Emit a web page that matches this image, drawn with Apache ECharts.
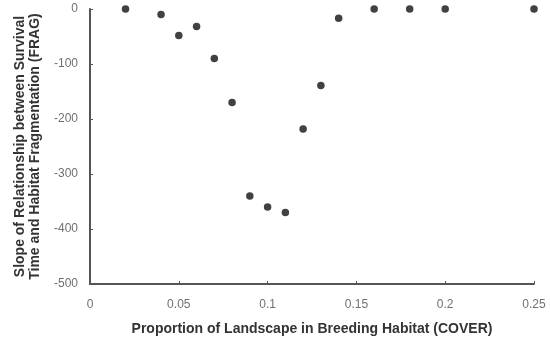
<!DOCTYPE html>
<html>
<head>
<meta charset="utf-8">
<script src="https://cdn.jsdelivr.net/npm/echarts@6/dist/echarts.min.js"></script>
<style>
  html, body { margin: 0; padding: 0; background: #fff; }
  #chart { width: 550px; height: 343px; }
</style>
</head>
<body>
<div id="chart"></div>
<script>
// Proportion of landscape in breeding habitat (COVER)
var cover = [0.02, 0.04, 0.05, 0.06, 0.07, 0.08, 0.09, 0.10, 0.11, 0.12, 0.13, 0.14, 0.16, 0.18, 0.20, 0.25];
// Slope of survival time vs. habitat fragmentation (FRAG)
var slope = [0, -10, -48, -32, -90, -170, -340, -360, -370, -218, -139, -17, 0, 0, 0, 0];

var xTicks = [0, 0.05, 0.1, 0.15, 0.2, 0.25];
var yTicks = [-500, -400, -300, -200, -100, 0];

var points = cover.map(function (c, i) { return [c, slope[i]]; });

var chart = echarts.init(document.getElementById('chart'), null, { renderer: 'canvas' });

var labelFont = { color: '#707070', fontSize: 12, fontFamily: 'Liberation Sans, Arial, sans-serif' };
var titleFont = { color: '#333', fontSize: 14, fontWeight: 'bold', fontFamily: 'Liberation Sans, Arial, sans-serif' };

chart.setOption({
  animation: false,
  backgroundColor: '#fff',
  grid: { left: 90, right: 16, top: 9, bottom: 59, containLabel: false },
  xAxis: {
    type: 'value',
    min: xTicks[0],
    max: xTicks[xTicks.length - 1],
    interval: 0.05,
    name: 'Proportion of Landscape in Breeding Habitat (COVER)',
    nameLocation: 'middle',
    nameGap: 38,
    nameTextStyle: titleFont,
    axisLine: { show: true, onZero: false, lineStyle: { color: '#555', width: 2 } },
    axisTick: { show: true, inside: true, length: 3, lineStyle: { color: '#555', width: 1 } },
    axisLabel: Object.assign({ margin: 15, formatter: function (v) { return String(+v.toFixed(2)); } }, labelFont),
    splitLine: { show: false }
  },
  yAxis: {
    type: 'value',
    min: yTicks[0],
    max: yTicks[yTicks.length - 1],
    interval: 100,
    name: 'Slope of Relationship between Survival\nTime and Habitat Fragmentation (FRAG)',
    nameLocation: 'middle',
    nameGap: 42,
    nameTextStyle: Object.assign({ lineHeight: 15 }, titleFont),
    axisLine: { show: true, onZero: false, lineStyle: { color: '#555', width: 2 } },
    axisTick: { show: true, inside: true, length: 3, lineStyle: { color: '#555', width: 1 } },
    axisLabel: Object.assign({ margin: 12 }, labelFont),
    splitLine: { show: false }
  },
  series: [{
    type: 'scatter',
    data: points,
    symbol: 'circle',
    symbolSize: 7.5,
    itemStyle: { color: '#111' }
  }]
});
</script>
</body>
</html>
